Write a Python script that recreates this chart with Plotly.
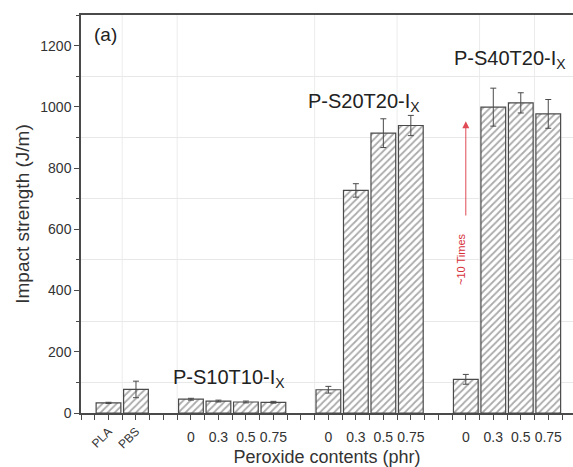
import plotly.graph_objects as go

# ---- data ----
tick_labels = ["PLA", "PBS",
               "0", "0.3", "0.5", "0.75",
               "0", "0.3", "0.5", "0.75",
               "0", "0.3", "0.5", "0.75"]
group_sizes = [2, 4, 4, 4]
impact = [33, 77, 45, 39, 36, 35, 76, 727, 914, 939, 110, 999, 1013, 977]
impact_err = [2, 27, 3, 3, 3, 3, 11, 22, 47, 33, 16, 62, 33, 47]
group_names = ["P-S10T10-I<sub>X</sub>", "P-S20T20-I<sub>X</sub>", "P-S40T20-I<sub>X</sub>"]
group_label_y = [113, 1014, 1154]
group_label_dx = [-0.1, -0.2, 0.1]
grid_x = [1.5, 3.5, 8.5, 11.5, 14.5, 16.5]

# category positions (gap of one slot between groups)
pos = []
groups_pos = []
p = 1
for g in group_sizes:
    gp = []
    for _ in range(g):
        pos.append(p)
        gp.append(p)
        p += 1
    groups_pos.append(gp)
    p += 1

FONT = "Liberation Sans, Arial, sans-serif"
AX = "#4a4a4a"
TXT = "#333333"

fig = go.Figure()
fig.add_trace(go.Bar(
    x=pos, y=impact, width=0.9,
    marker=dict(color="white",
                line=dict(color="#4a4a4a", width=1.2),
                pattern=dict(shape="/", fgcolor="#555555", bgcolor="white",
                             size=5, solidity=0.35, fillmode="overlay")),
    error_y=dict(type="data", array=impact_err, visible=True,
                 color="#4a4a4a", thickness=1, width=3),
    showlegend=False, hoverinfo="skip"))

# invisible helper so that the overlay axis is drawn
fig.add_trace(go.Scatter(x=pos, y=impact, xaxis="x3", mode="markers",
                         marker=dict(opacity=0), showlegend=False,
                         hoverinfo="skip"))

xr = [0, 17.9]
num_idx = [i for i in range(len(tick_labels)) if i >= group_sizes[0]]
name_idx = list(range(group_sizes[0]))

fig.update_layout(
    width=573, height=467,
    margin=dict(l=81, r=0, t=15, b=54),
    paper_bgcolor="white", plot_bgcolor="white",
    font=dict(family=FONT, color=TXT),
    xaxis=dict(range=xr, showline=True, linecolor=AX, linewidth=1.5, mirror=True,
               tickmode="array", tickvals=[pos[i] for i in name_idx],
               ticktext=[tick_labels[i] for i in name_idx],
               tickangle=-45, ticks="outside", ticklen=5, tickcolor=AX,
               tickfont=dict(size=12, color=TXT), showgrid=False, zeroline=False,
               minor=dict(tickmode="linear", tick0=0, dtick=0.5, ticks="outside",
                          ticklen=5, tickcolor=AX, showgrid=False)),
    xaxis3=dict(range=xr, overlaying="x", side="bottom", anchor="y",
                tickmode="array", tickvals=[pos[i] for i in num_idx],
                ticktext=[tick_labels[i] for i in num_idx],
                tickangle=0, ticks="outside", ticklen=5, tickcolor=AX,
                ticklabelstandoff=6,
                tickfont=dict(size=14, color=TXT), showgrid=False,
                zeroline=False, showline=False,
                title=dict(text="Peroxide contents (phr)", standoff=6,
                           font=dict(size=18, color=TXT))),
    yaxis=dict(range=[0, 1300], showline=True, linecolor=AX, linewidth=1.5,
               tickmode="linear", tick0=0, dtick=200, ticks="outside", ticklen=5,
               tickcolor=AX, tickfont=dict(size=14, color=TXT),
               showgrid=False, zeroline=False,
               minor=dict(tickmode="linear", tick0=100, dtick=200, ticks="outside",
                          ticklen=3, tickcolor=AX, showgrid=True,
                          gridcolor="#e8e8e8", gridwidth=1),
               title=dict(text="Impact strength (J/m)", standoff=6,
                          font=dict(size=19, color=TXT))),
)

# faint vertical grid lines
for gx in grid_x:
    fig.add_shape(type="line", xref="x", yref="paper", x0=gx, x1=gx, y0=0, y1=1,
                  line=dict(color="#ececec", width=1), layer="below")

# group labels
for name, gp, gy, dx in zip(group_names, groups_pos[1:], group_label_y, group_label_dx):
    fig.add_annotation(x=sum(gp) / len(gp) + dx, y=gy, xref="x", yref="y",
                       text=name, showarrow=False,
                       font=dict(size=20, color="#222222", family=FONT))

# panel label
fig.add_annotation(x=0.05, y=0.95, xref="paper", yref="paper", text="(a)",
                   showarrow=False, xanchor="center", yanchor="middle",
                   font=dict(size=19, color="#222222", family=FONT))

# red arrow and text
arrow_x = groups_pos[3][0]
fig.add_annotation(x=arrow_x, y=953, ax=arrow_x, ay=640, xref="x", yref="y",
                   axref="x", ayref="y", text="", showarrow=True,
                   arrowhead=2, arrowsize=1.4, arrowwidth=1, arrowcolor="#e04a55")
fig.add_annotation(x=arrow_x - 0.2, y=504, xref="x", yref="y",
                   text="~10 Times", textangle=-90, showarrow=False,
                   font=dict(size=11, color="#d8303a", family=FONT))

fig.write_html("out.html")
